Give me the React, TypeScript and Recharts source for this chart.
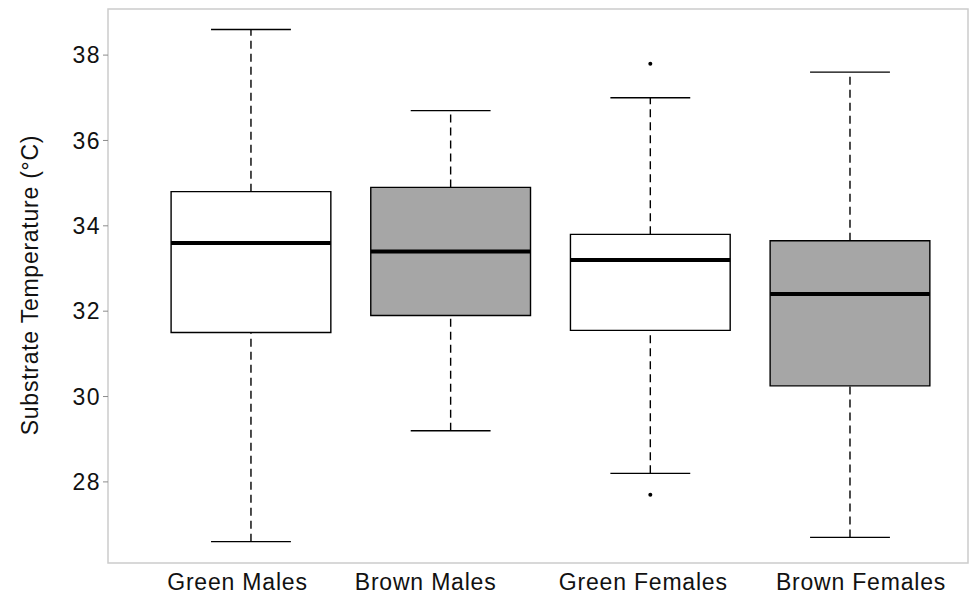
import React from 'react';
import { ComposedChart, XAxis, YAxis, ReferenceArea, ReferenceLine, Scatter, Label } from 'recharts';

const categories = ['Green Males', 'Brown Males', 'Green Females', 'Brown Females'];
const positions = [1, 2, 3, 4];
const whiskerLow = [26.6, 29.2, 28.2, 26.7];
const q1 = [31.5, 31.9, 31.55, 30.25];
const median = [33.6, 33.4, 33.2, 32.4];
const q3 = [34.8, 34.9, 33.8, 33.65];
const whiskerHigh = [38.6, 36.7, 37.0, 37.6];
const boxFill = ['#ffffff', '#a6a6a6', '#ffffff', '#a6a6a6'];
const outlierGroup = [3, 3];
const outlierValue = [37.8, 27.7];
const yTicks = [28, 30, 32, 34, 36, 38];

// layout constants
const xDomain: [number, number] = [0.284, 4.591];
const yDomain: [number, number] = [26.1, 39.08];
const BOX_HALF = 0.4;
const CAP_HALF = 0.2;
const labelDx = [-13.5, -25, -7, 11];
const FONT = '"Liberation Sans", Arial, Helvetica, sans-serif';
const TEXT = '#111111';

const outliers = outlierGroup.map((g, i) => ({ x: g, y: outlierValue[i] }));

function XTick(props: any) {
  const { x, y, payload } = props;
  const i = positions.indexOf(payload.value);
  if (i < 0) return null;
  return (
    <text
      x={x + labelDx[i]}
      y={y + 26.5}
      textAnchor="middle"
      fontSize={23}
      letterSpacing={0.8}
      fill={TEXT}
      fontFamily={FONT}
    >
      {categories[i]}
    </text>
  );
}

function YTitle(props: any) {
  const vb = props.viewBox || { x: 0, y: 9, width: 108, height: 554 };
  const cx = vb.x + 30;
  const cy = vb.y + vb.height / 2 - 1;
  return (
    <text
      x={cx}
      y={cy}
      transform={`rotate(-90 ${cx} ${cy})`}
      textAnchor="middle"
      dominantBaseline="central"
      fontSize={23}
      letterSpacing={0.75}
      fill={TEXT}
      fontFamily={FONT}
    >
      Substrate Temperature (°C)
    </text>
  );
}

const Dot = (p: any) => <circle cx={p.cx} cy={p.cy} r={2} fill="#000" />;

export default function App() {
  return (
    <div style={{ position: 'absolute', left: 0, top: 0, background: '#fff' }}>
      <ComposedChart width={972} height={598} margin={{ top: 9, right: 4, bottom: 0, left: 0 }}>
        <XAxis
          dataKey="x"
          type="number"
          domain={xDomain}
          allowDataOverflow
          ticks={positions}
          tick={<XTick />}
          tickLine={false}
          axisLine={false}
          tickSize={0}
          tickMargin={0}
          height={35}
        />
        <YAxis
          type="number"
          domain={yDomain}
          allowDataOverflow
          ticks={yTicks}
          width={108}
          axisLine={false}
          tickLine={{ stroke: '#8c8c8c', strokeWidth: 1 }}
          tickSize={5}
          tickMargin={2}
          tick={{ fontSize: 23, fill: TEXT, fontFamily: FONT, letterSpacing: 1.5 }}
        >
          <Label content={<YTitle />} position="center" />
        </YAxis>

        <ReferenceArea
          x1={xDomain[0]}
          x2={xDomain[1]}
          y1={yDomain[0]}
          y2={yDomain[1]}
          fill="#ffffff"
          fillOpacity={0}
          stroke="#cccccc"
          strokeWidth={1.5}
          ifOverflow="visible"
        />

        {positions.map((c, i) => (
          <ReferenceLine
            key={`wl${i}`}
            segment={[{ x: c, y: whiskerLow[i] }, { x: c, y: q1[i] }]}
            stroke="#000"
            strokeWidth={1.4}
            strokeDasharray="8 5"
            ifOverflow="visible"
          />
        ))}
        {positions.map((c, i) => (
          <ReferenceLine
            key={`wh${i}`}
            segment={[{ x: c, y: q3[i] }, { x: c, y: whiskerHigh[i] }]}
            stroke="#000"
            strokeWidth={1.4}
            strokeDasharray="8 5"
            ifOverflow="visible"
          />
        ))}
        {positions.map((c, i) => (
          <ReferenceLine
            key={`cl${i}`}
            segment={[{ x: c - CAP_HALF, y: whiskerLow[i] }, { x: c + CAP_HALF, y: whiskerLow[i] }]}
            stroke="#000"
            strokeWidth={1.4}
            ifOverflow="visible"
          />
        ))}
        {positions.map((c, i) => (
          <ReferenceLine
            key={`ch${i}`}
            segment={[{ x: c - CAP_HALF, y: whiskerHigh[i] }, { x: c + CAP_HALF, y: whiskerHigh[i] }]}
            stroke="#000"
            strokeWidth={1.4}
            ifOverflow="visible"
          />
        ))}
        {positions.map((c, i) => (
          <ReferenceArea
            key={`box${i}`}
            x1={c - BOX_HALF}
            x2={c + BOX_HALF}
            y1={q1[i]}
            y2={q3[i]}
            fill={boxFill[i]}
            fillOpacity={1}
            stroke="#000"
            strokeWidth={1.4}
            ifOverflow="visible"
          />
        ))}
        {positions.map((c, i) => (
          <ReferenceLine
            key={`med${i}`}
            segment={[{ x: c - BOX_HALF, y: median[i] }, { x: c + BOX_HALF, y: median[i] }]}
            stroke="#000"
            strokeWidth={4}
            ifOverflow="visible"
          />
        ))}
        <Scatter data={outliers} dataKey="y" shape={<Dot />} isAnimationActive={false} />
      </ComposedChart>
    </div>
  );
}
